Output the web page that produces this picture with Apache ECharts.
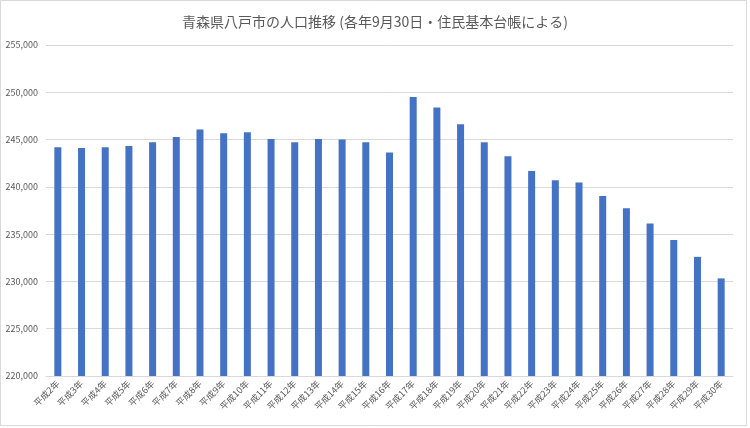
<!DOCTYPE html>
<html><head><meta charset="utf-8">
<script src="https://cdn.jsdelivr.net/npm/echarts@6/dist/echarts.min.js"></script>
<style>html,body{margin:0;padding:0;background:#fff}#c{width:750px;height:428px}</style>
</head><body><div id="c"></div>
<script>
const categories = ['平成2年','平成3年','平成4年','平成5年','平成6年','平成7年','平成8年','平成9年','平成10年','平成11年','平成12年','平成13年','平成14年','平成15年','平成16年','平成17年','平成18年','平成19年','平成20年','平成21年','平成22年','平成23年','平成24年','平成25年','平成26年','平成27年','平成28年','平成29年','平成30年'];
const population = [244190,244120,244190,244330,244710,245280,246060,245670,245770,245070,244710,245070,245000,244710,243620,249500,248380,246620,244710,243230,241670,240690,240460,239030,237750,236130,234370,232600,230320];
const titleText = '青森県八戸市の人口推移 (各年9月30日・住民基本台帳による)';

const chart = echarts.init(document.getElementById('c'), null, {renderer:'canvas'});
const font = '"Noto Sans CJK JP", "Noto Sans", sans-serif';
chart.setOption({
  animation:false,
  backgroundColor:'#fff',
  textStyle:{fontFamily:font},
  title:{text:titleText,left:'center',top:10,textStyle:{fontSize:14,fontWeight:'normal',color:'#595959',fontFamily:font}},
  graphic:[{type:'rect',shape:{x:0.5,y:0.5,width:746,height:425},style:{fill:'none',stroke:'#d9d9d9',lineWidth:1},silent:true}],
  grid:{left:46,right:17,top:45,bottom:52,containLabel:false},
  xAxis:{type:'category',data:categories,
    axisLine:{show:true,lineStyle:{color:'#d9d9d9'}},
    axisTick:{show:false},
    axisLabel:{rotate:45,fontSize:9,color:'#595959',interval:0,margin:6,fontFamily:font}},
  yAxis:{type:'value',min:220000,max:255000,interval:5000,
    axisLine:{show:false},axisTick:{show:false},
    splitLine:{lineStyle:{color:'#d9d9d9'}},
    axisLabel:{fontSize:9,color:'#595959',margin:8,fontFamily:font,
      formatter:v=>v.toLocaleString('en-US')}},
  series:[{type:'bar',data:population,barWidth:7,itemStyle:{color:'#4472C4'}}]
});
</script></body></html>
